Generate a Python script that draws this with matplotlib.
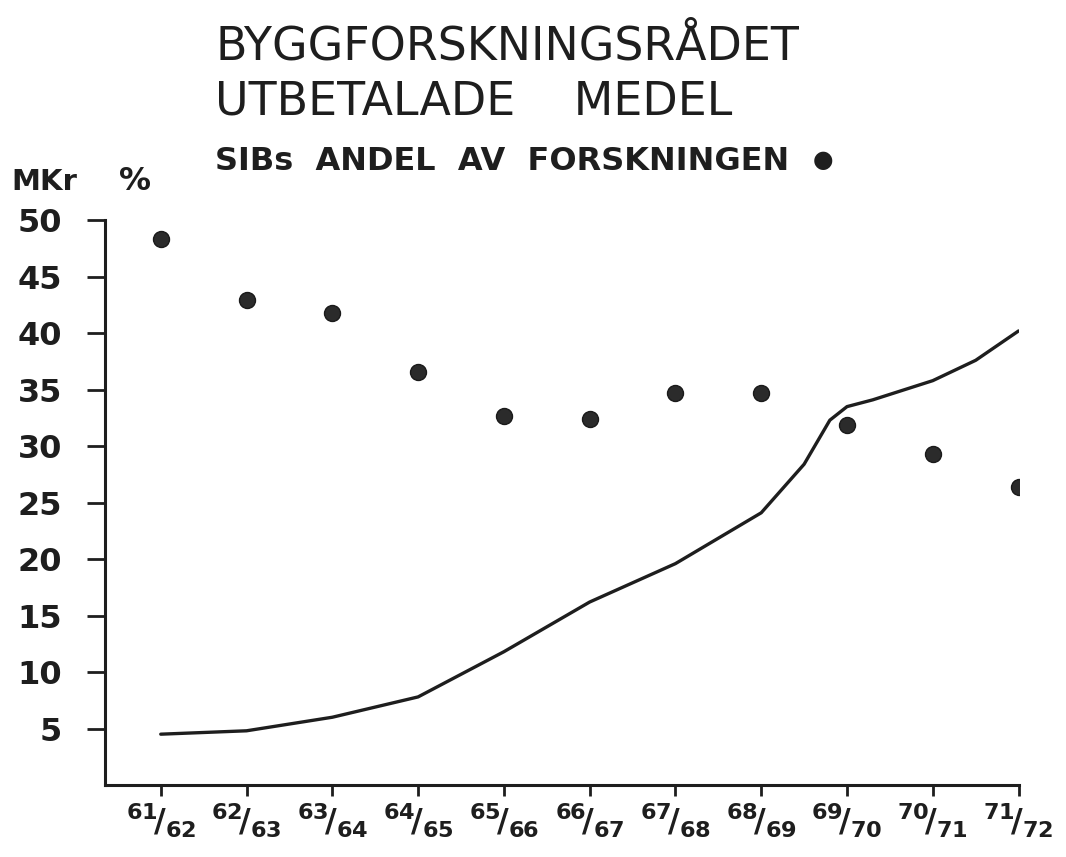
import matplotlib.pyplot as plt

# Budget years (x categories)
years = ["61/62", "62/63", "63/64", "64/65", "65/66", "66/67",
         "67/68", "68/69", "69/70", "70/71", "71/72"]

# Paid out funds, MKr (hand drawn curve, read at ticks and a few points between)
mkr_pos = [0, 1, 2, 3, 4, 5, 6, 7, 7.5, 7.8, 8, 8.3, 9, 9.5, 10]
mkr = [4.5, 4.8, 6.0, 7.8, 11.8, 16.2, 19.6, 24.1, 28.4, 32.3, 33.5, 34.1, 35.8, 37.6, 40.2]

# SIB share of the research, % (dots)
sib_share = [48.3, 42.9, 41.8, 36.6, 32.7, 32.4, 34.7, 34.7, 31.9, 29.3, 26.4]

yticks = [5, 10, 15, 20, 25, 30, 35, 40, 45, 50]

plt.rcParams["mathtext.default"] = "bf"
plt.rcParams["font.family"] = "DejaVu Sans"

ink = "#1e1e1e"

fig = plt.figure(figsize=(10.66, 8.57), dpi=100)
ax = fig.add_axes([0.0985, 0.084, 0.857, 0.659])

x = list(range(len(years)))
ax.plot(mkr_pos, mkr, color=ink, lw=2.4, solid_capstyle="round", solid_joinstyle="round")
ax.plot(x, sib_share, "o", color="#2b2b2b", ms=11.5, mec="#1a1a1a", mew=1)

ax.set_xlim(-0.65, 10)
ax.set_ylim(0, 50)

for side in ["top", "right"]:
    ax.spines[side].set_visible(False)
for side in ["left", "bottom"]:
    ax.spines[side].set_linewidth(2.2)
    ax.spines[side].set_color(ink)

ax.set_yticks(yticks)
ax.set_yticklabels([str(v) for v in yticks], fontsize=23, fontweight="bold", color=ink)
ax.tick_params(axis="y", length=13, width=2, pad=18, colors=ink)

labels = []
for y in years:
    a, b = y.split("/")
    labels.append(r"$^{%s}\!/_{%s}$" % (a, b))
ax.set_xticks(x)
ax.set_xticklabels(labels, fontsize=23, color=ink)
ax.tick_params(axis="x", length=8, width=2, pad=4, colors=ink)

fig.text(0.2017, 0.930, "BYGGFORSKNINGSRÅDET", fontsize=33, color=ink)
fig.text(0.2017, 0.866, "UTBETALADE    MEDEL", fontsize=33, color=ink)
fig.text(0.2017, 0.802, "SIBs  ANDEL  AV  FORSKNINGEN", fontsize=23, fontweight="bold", color=ink)
fig.text(0.762, 0.805, "●", fontsize=17, color=ink)
fig.text(0.011, 0.778, "MKr", fontsize=21, fontweight="bold", color=ink)
fig.text(0.112, 0.778, "%", fontsize=23, fontweight="bold", color=ink)

fig.savefig("out.png", dpi=100)
